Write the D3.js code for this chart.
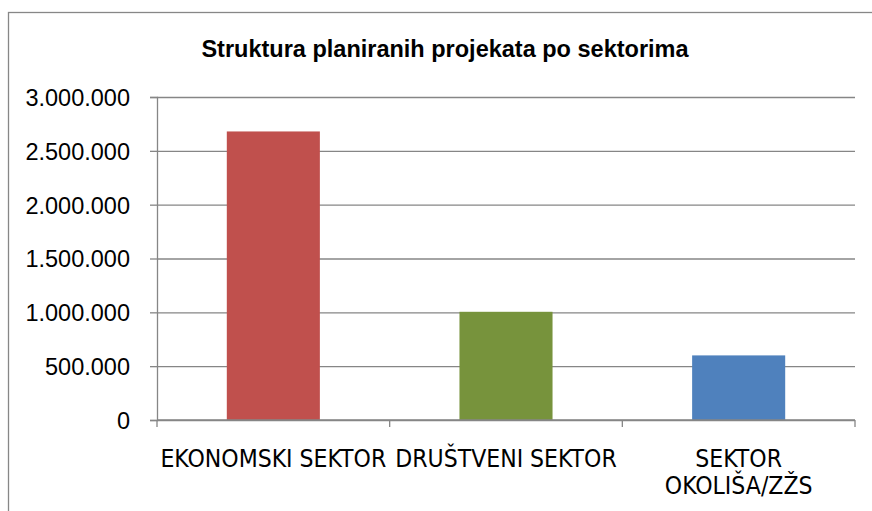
<!DOCTYPE html>
<html>
<head>
<meta charset="utf-8">
<script src="https://cdn.jsdelivr.net/npm/d3@7"></script>
<style>
  body { margin: 0; background: #fff; }
  svg { display: block; }
</style>
</head>
<body>
<script>
// data ("\n" marks where a category label wraps)
var categories = ["EKONOMSKI SEKTOR", "DRUŠTVENI SEKTOR", "SEKTOR\nOKOLIŠA/ZŽS"];
var values = [2680000, 1005000, 600000];
var barColors = ["#C0504D", "#77933C", "#4F81BD"];
var yTicks = [0, 500000, 1000000, 1500000, 2000000, 2500000, 3000000];
var title = "Struktura planiranih projekata po sektorima";

var width = 872, height = 511;
var plot = { left: 157, right: 855, top: 97, bottom: 420 };

var svg = d3.select("body").append("svg")
    .attr("width", width).attr("height", height);

// outer chart border (runs off the right and bottom edges)
svg.append("rect")
    .attr("x", 8.5).attr("y", 12.5)
    .attr("width", 900).attr("height", 600)
    .attr("fill", "none").attr("stroke", "#878787").attr("stroke-width", 1.3);

var locale = d3.formatLocale({ decimal: ",", thousands: ".", grouping: [3], currency: ["", ""] });
var fmt = locale.format(",d");

var yscale = d3.scaleLinear()
    .domain([0, 3000000])
    .range([plot.bottom, plot.top]);

var xscale = d3.scaleBand()
    .domain(categories)
    .range([plot.left, plot.right])
    .paddingInner(0.6)
    .paddingOuter(0.3);

// band scale without padding, used for the tick marks between categories
var xticks = d3.scaleBand()
    .domain(categories)
    .range([plot.left, plot.right]);

// gridlines
var grid = svg.append("g")
    .attr("transform", "translate(" + plot.left + ",0)")
    .call(d3.axisLeft(yscale).tickValues(yTicks).tickSize(-(plot.right - plot.left)).tickFormat(""));
grid.select(".domain").remove();
grid.selectAll("line").attr("stroke", "#868686").attr("stroke-width", 1.3);

// bars
svg.selectAll(".bar").data(categories)
  .enter().append("rect")
    .attr("class", "bar")
    .attr("x", function(d) { return xscale(d); })
    .attr("width", xscale.bandwidth())
    .attr("y", function(d, i) { return yscale(values[i]); })
    .attr("height", function(d, i) { return plot.bottom - yscale(values[i]); })
    .attr("fill", function(d, i) { return barColors[i]; });

// y axis
var yaxis = svg.append("g")
    .attr("transform", "translate(" + plot.left + ",0)")
    .call(d3.axisLeft(yscale).tickValues(yTicks).tickSize(7).tickPadding(20).tickFormat(fmt));
yaxis.select(".domain").attr("stroke", "#868686").attr("stroke-width", 1.3);
yaxis.selectAll("line").attr("stroke", "#868686").attr("stroke-width", 1.3);
yaxis.selectAll("text")
    .attr("font-family", "'Liberation Sans', Arial, sans-serif")
    .attr("font-size", "23.5px")
    .attr("fill", "#000")
    .attr("dy", "0.36em");

// x axis: ticks at band edges
var edges = categories.map(function(d) { return xticks(d); }).concat([plot.right]);
var xaxis = svg.append("g")
    .attr("transform", "translate(0," + plot.bottom + ")");
xaxis.append("line")
    .attr("x1", plot.left).attr("x2", plot.right)
    .attr("stroke", "#868686").attr("stroke-width", 1.5);
xaxis.selectAll(".xtick").data(edges)
  .enter().append("line")
    .attr("class", "xtick")
    .attr("x1", function(d) { return d; }).attr("x2", function(d) { return d; })
    .attr("y1", 0).attr("y2", 7)
    .attr("stroke", "#868686").attr("stroke-width", 1.3);

// category labels
svg.selectAll(".xlabel").data(categories)
  .enter().append("text")
    .attr("class", "xlabel")
    .attr("text-anchor", "middle")
    .attr("font-family", "'Liberation Sans Narrow', 'DejaVu Sans Condensed', sans-serif")
    .attr("font-size", "24.5px")
    .attr("fill", "#000")
    .each(function(d) {
      var x = xticks(d) + xticks.bandwidth() / 2;
      d3.select(this).selectAll("tspan").data(d.split("\n"))
        .enter().append("tspan")
          .attr("x", x)
          .attr("y", function(t, i) { return 467 + i * 27; })
          .text(function(t) { return t; });
    });

// title
svg.append("text")
    .attr("x", 445)
    .attr("y", 57)
    .attr("text-anchor", "middle")
    .attr("font-family", "'Liberation Sans', Arial, sans-serif")
    .attr("font-weight", "bold")
    .attr("font-size", "23.5px")
    .attr("fill", "#000")
    .text(title);
</script>
</body>
</html>
